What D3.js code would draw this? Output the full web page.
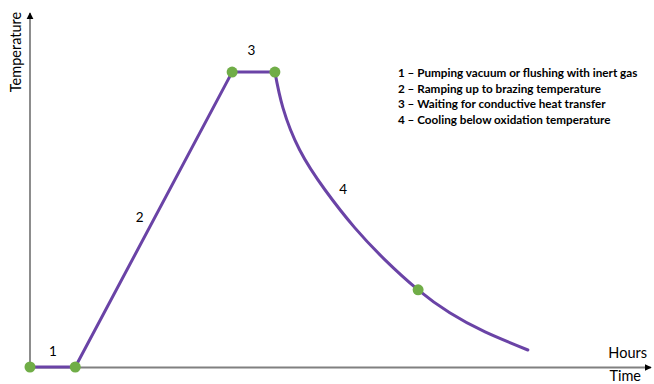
<!DOCTYPE html>
<html><head><meta charset="utf-8">
<script src="https://cdn.jsdelivr.net/npm/d3@7"></script>
<style>body{margin:0;background:#fff}svg{display:block}</style>
</head><body>
<svg id="c" width="654" height="384"></svg>
<script>
// Data (time in arbitrary hours, temperature in arbitrary units)
const pointTimes = [0, 0.73, 3.26, 3.95, 6.26];
const pointTemps = [0, 0, 833, 833, 218];
const lineTimes = [0, 0.73, 3.26, 3.95];
const lineTemps = [0, 0, 833, 833];
const coolTimes = [3.95, 4.08, 4.35, 4.76, 5.24, 5.73, 6.26, 6.77, 7.34, 8.03];
const coolTemps = [833, 732, 613, 500, 393, 302, 218, 153, 99, 48];
const phaseLabels = ["1", "2", "3", "4"];
const phaseTimes = [0.37, 1.77, 3.57, 5.05];
const phaseTemps = [30, 410, 880, 490];
const legendItems = [
  "1 \u2013 Pumping vacuum or flushing with inert gas",
  "2 \u2013 Ramping up to brazing temperature",
  "3 \u2013 Waiting for conductive heat transfer",
  "4 \u2013 Cooling below oxidation temperature"
];

const svg = d3.select("#c");
const x = d3.scaleLinear().domain([0, 10]).range([30, 650]);
const y = d3.scaleLinear().domain([0, 1000]).range([367, 13]);
const font = "Lato, 'Open Sans', sans-serif";

const defs = svg.append("defs");
defs.append("marker").attr("id","arr").attr("viewBox","0 0 10 10")
  .attr("refX",9).attr("refY",5).attr("markerWidth",4).attr("markerHeight",4)
  .attr("orient","auto-start-reverse").attr("markerUnits","strokeWidth")
  .append("path").attr("d","M0,0L10,5L0,10z").attr("fill","#000");

// axes
svg.append("line").attr("x1", x(0)).attr("y1", y(0)).attr("x2", x(0)).attr("y2", 13)
  .attr("stroke","#808080").attr("stroke-width",1.8).attr("marker-end","url(#arr)");
svg.append("line").attr("x1", x(0)).attr("y1", y(0)+0.5).attr("x2", 651).attr("y2", y(0)+0.5)
  .attr("stroke","#808080").attr("stroke-width",1.8).attr("marker-end","url(#arr)");

svg.append("text").attr("transform","translate(21,52) rotate(-90)")
  .attr("text-anchor","middle").attr("font-family",font).attr("font-size",14.5)
  .attr("fill","#000").text("Temperature");
svg.append("text").attr("x",647).attr("y",358).attr("text-anchor","end")
  .attr("font-family",font).attr("font-size",14.5).attr("fill","#000").text("Hours");
svg.append("text").attr("x",641).attr("y",381).attr("text-anchor","end")
  .attr("font-family",font).attr("font-size",14.5).attr("fill","#000").text("Time");

const purple = "#6A43A6";
const lineGen = d3.line().x(d=>x(d[0])).y(d=>y(d[1]));
svg.append("path").datum(lineTimes.map((t,i)=>[t,lineTemps[i]]))
  .attr("d", lineGen).attr("fill","none").attr("stroke",purple).attr("stroke-width",3)
  .attr("stroke-linejoin","round");
svg.append("path").datum(coolTimes.map((t,i)=>[t,coolTemps[i]]))
  .attr("d", lineGen.curve(d3.curveNatural)).attr("fill","none").attr("stroke",purple)
  .attr("stroke-width",3).attr("stroke-linecap","round");

svg.selectAll("circle.pt").data(pointTimes).join("circle").attr("class","pt")
  .attr("cx", d=>x(d)).attr("cy",(d,i)=>y(pointTemps[i])).attr("r",5.5)
  .attr("fill","#70AD47");

svg.selectAll("text.ph").data(phaseLabels).join("text").attr("class","ph")
  .attr("x",(d,i)=>x(phaseTimes[i])).attr("y",(d,i)=>y(phaseTemps[i]))
  .attr("text-anchor","middle").attr("font-family",font).attr("font-size",13.5)
  .attr("fill","#000").text(d=>d);

svg.selectAll("text.lg").data(legendItems).join("text").attr("class","lg")
  .attr("x",398).attr("y",(d,i)=>77+i*15.7)
  .attr("font-family",font).attr("font-size",11.7).attr("font-weight","bold")
  .attr("fill","#000").text(d=>d);
</script>
</body></html>
